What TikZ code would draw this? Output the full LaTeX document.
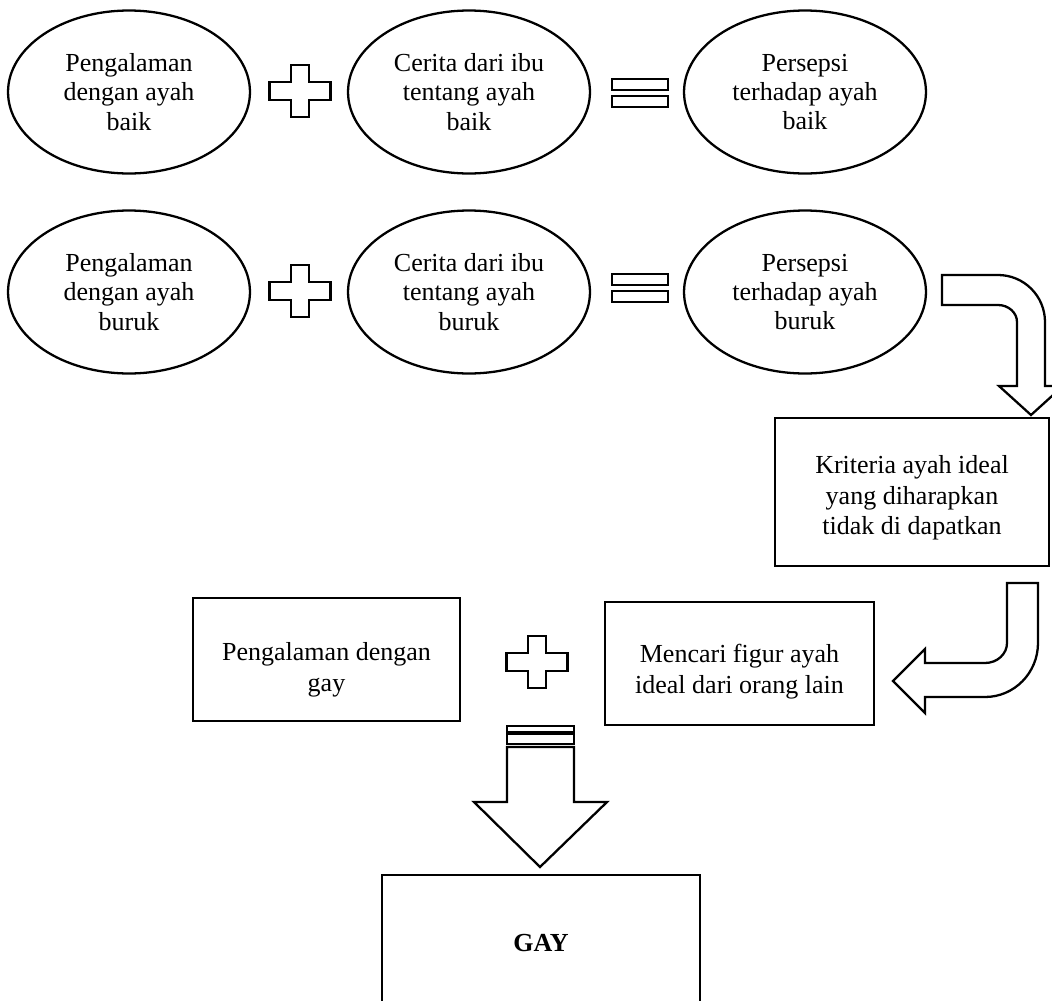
\documentclass[tikz,border=0pt]{standalone}
\usepackage{fontspec}
\setmainfont{Liberation Serif}
\usepackage{tikz}
\usetikzlibrary{shapes.geometric}
\newcommand{\dropline}[1]{\rule{0pt}{#1}}

\begin{document}
\begin{tikzpicture}[x=0.02cm, y=-0.02cm, line width=1.3pt,
  bubble/.style={draw, ellipse, inner sep=0pt, minimum width=4.84cm, minimum height=3.26cm,
    align=center, font=\fontsize{14.8}{16.6}\selectfont},
  panel/.style={draw, rectangle, inner sep=0pt, align=center,
    font=\fontsize{14.8}{17.5}\selectfont},
  blockarrow/.style={draw, fill=white, line join=miter},
  plusmark/.pic={
    \draw[blockarrow] (-30.5,-9) -- (-9,-9) -- (-9,-26) -- (9,-26) -- (9,-9) -- (30.5,-9)
      -- (30.5,9) -- (9,9) -- (9,26) -- (-9,26) -- (-9,9) -- (-30.5,9) -- cycle;},
  eqmark/.pic={
    \draw[blockarrow] (-28,-14) rectangle (28,-3);
    \draw[blockarrow] (-28,3) rectangle (28,14);}]
\useasboundingbox (0,0) rectangle (1052,1001);

\node[bubble] (expBaik) at (129,92) {Pengalaman\\dengan ayah\\baik};
\node[bubble] (ceritaBaik) at (469,92) {Cerita dari ibu\\tentang ayah\\baik};
\node[bubble] (persepsiBaik) at (805,92) {Persepsi\\terhadap ayah\\baik};
\pic at (300,91) {plusmark};
\pic at (640,93) {eqmark};

\node[bubble] (expBuruk) at (129,292) {Pengalaman\\dengan ayah\\buruk};
\node[bubble] (ceritaBuruk) at (469,292) {Cerita dari ibu\\tentang ayah\\buruk};
\node[bubble] (persepsiBuruk) at (805,292) {Persepsi\\terhadap ayah\\buruk};
\pic at (300,291) {plusmark};
\pic at (640,288) {eqmark};

\draw[blockarrow] (942,275) -- (998,275) .. controls (1024,275) and (1045,296) .. (1045,322)
  -- (1045,386) -- (1063,386) -- (1031,415) -- (999,386) -- (1017,386) -- (1017,322)
  .. controls (1017,312.6) and (1008.5,305) .. (998,305) -- (942,305) -- cycle;

\node[panel, minimum width=5.48cm, minimum height=2.96cm] (kriteria) at (912,492)
  {\dropline{17pt}Kriteria ayah ideal\\yang diharapkan\\tidak di dapatkan};

\draw[blockarrow] (1007,583) -- (1038,583) -- (1038,643)
  .. controls (1038,672.8) and (1014.3,697) .. (985,697) -- (925,697) -- (925,713)
  -- (893,681) -- (925,649) -- (925,663) -- (985,663)
  .. controls (997.2,663) and (1007,654) .. (1007,643) -- cycle;

\node[panel, minimum width=5.34cm, minimum height=2.46cm] (pengGay) at (326.5,659.5)
  {\dropline{22pt}Pengalaman dengan\\gay};
\node[panel, minimum width=5.38cm, minimum height=2.46cm] (mencari) at (739.5,663.5)
  {\dropline{19.5pt}Mencari figur ayah\\ideal dari orang lain};
\pic at (537,662) {plusmark};

\draw[blockarrow] (507,726) rectangle (574,732);
\draw[blockarrow] (507,734) rectangle (574,744);
\draw[blockarrow] (507,747) -- (574,747) -- (574,802) -- (607,802) -- (540,867)
  -- (474,802) -- (507,802) -- cycle;

\node[panel, minimum width=6.36cm, minimum height=2.72cm, font=\fontsize{14.8}{17.2}\selectfont\bfseries]
  (gay) at (541,943) {GAY};
\end{tikzpicture}
\end{document}
